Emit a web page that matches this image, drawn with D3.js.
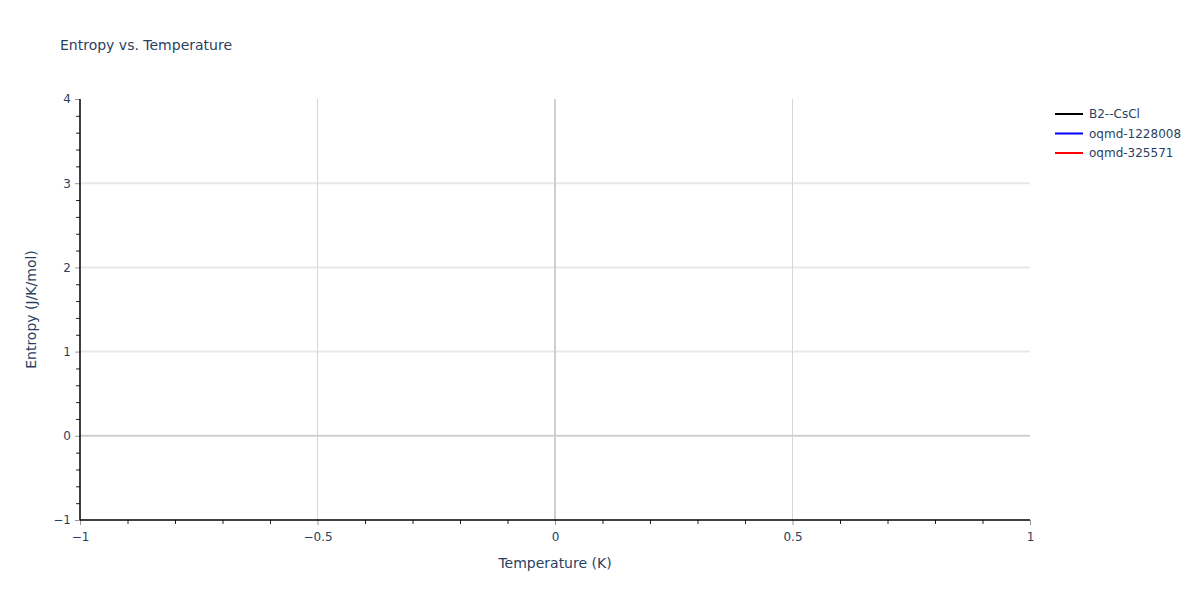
<!doctype html>
<html lang="en">
<head>
    <meta charset="utf-8">
    <script src="https://d3js.org/d3.v7.min.js"></script>
    <style>
        html, body { margin: 0; padding: 0; background: #fff; }
        svg text { font-family: "DejaVu Sans", Verdana, sans-serif; fill: #2a3f5f; }
    </style>
</head>
<body>
<svg id="svg" width="1200" height="600"></svg>
<script>
    // chart data (no points were plotted, only the series names)
    var seriesNames = ["B2--CsCl", "oqmd-1228008", "oqmd-325571"];
    var seriesColors = ["black", "blue", "red"];
    var xDomain = [-1, 1];
    var yDomain = [-1, 4];
    var xMajorTicks = [-1, -0.5, 0, 0.5, 1];
    var xMinorTicks = [-0.9, -0.8, -0.7, -0.6, -0.4, -0.3, -0.2, -0.1, 0.1, 0.2, 0.3, 0.4, 0.6, 0.7, 0.8, 0.9];
    var yMajorTicks = [-1, 0, 1, 2, 3, 4];
    var yMinorTicks = [-0.8, -0.6, -0.4, -0.2, 0.2, 0.4, 0.6, 0.8, 1.2, 1.4, 1.6, 1.8,
                       2.2, 2.4, 2.6, 2.8, 3.2, 3.4, 3.6, 3.8];

    var svg = d3.select("#svg");
    // plot area edges
    var pL = 80, pR = 1030, pT = 99, pB = 520;

    var x = d3.scaleLinear().domain(xDomain).range([pL, pR]);
    var y = d3.scaleLinear().domain(yDomain).range([pB, pT]);

    var fmt = function (d) { return d < 0 ? "\u2212" + Math.abs(d) : String(d); };

    // grid
    svg.append("g").selectAll("line")
        .data(yMajorTicks.filter(function (d) { return d > -1 && d < 4 && d !== 0; }))
        .enter().append("line")
        .attr("x1", pL).attr("x2", pR)
        .attr("y1", function (d) { return y(d); }).attr("y2", function (d) { return y(d); })
        .attr("stroke", "#e8e8e8").attr("stroke-width", 2);
    svg.append("g").selectAll("line")
        .data(xMajorTicks.filter(function (d) { return d > -1 && d < 1 && d !== 0; }))
        .enter().append("line")
        .attr("y1", pT).attr("y2", pB)
        .attr("x1", function (d) { return x(d); }).attr("x2", function (d) { return x(d); })
        .attr("stroke", "#d6d6d6").attr("stroke-width", 1);

    // zero lines
    svg.append("line")
        .attr("x1", pL).attr("x2", pR).attr("y1", y(0)).attr("y2", y(0))
        .attr("stroke", "#cfcfcf").attr("stroke-width", 2);
    svg.append("line")
        .attr("x1", x(0)).attr("x2", x(0)).attr("y1", pT).attr("y2", pB)
        .attr("stroke", "#cfcfcf").attr("stroke-width", 2);

    // x axis
    var gx = svg.append("g").attr("transform", "translate(0," + pB + ")");
    gx.call(d3.axisBottom(x).tickValues(xMinorTicks).tickSize(4).tickFormat(""));
    gx.select(".domain").remove();
    gx.selectAll("line").attr("stroke", "#222");
    var gx2 = svg.append("g").attr("transform", "translate(0," + pB + ")");
    gx2.call(d3.axisBottom(x).tickValues(xMajorTicks).tickSize(5).tickPadding(7).tickFormat(fmt));
    gx2.select(".domain").remove();
    gx2.selectAll("line").attr("stroke", "#999");
    gx2.selectAll("text").attr("font-size", 12).attr("fill", "#2a3f5f");

    // y axis
    var gy = svg.append("g").attr("transform", "translate(" + pL + ",0)");
    gy.call(d3.axisLeft(y).tickValues(yMinorTicks).tickSize(4).tickFormat(""));
    gy.select(".domain").remove();
    gy.selectAll("line").attr("stroke", "#222");
    var gy2 = svg.append("g").attr("transform", "translate(" + pL + ",0)");
    gy2.call(d3.axisLeft(y).tickValues(yMajorTicks).tickSize(5).tickPadding(4).tickFormat(fmt));
    gy2.select(".domain").remove();
    gy2.selectAll("line").attr("stroke", "#999");
    gy2.selectAll("text").attr("font-size", 12).attr("fill", "#2a3f5f");

    // axis lines
    svg.append("line").attr("x1", pL).attr("x2", pR).attr("y1", pB).attr("y2", pB)
        .attr("stroke", "black").attr("stroke-width", 1.5);
    svg.append("line").attr("x1", pL).attr("x2", pL).attr("y1", pT).attr("y2", pB)
        .attr("stroke", "black").attr("stroke-width", 1.5);

    // titles
    svg.append("text").attr("x", 60).attr("y", 50).attr("font-size", 14)
        .text("Entropy vs. Temperature");
    svg.append("text").attr("x", (pL + pR) / 2).attr("y", 568).attr("font-size", 14)
        .attr("text-anchor", "middle").text("Temperature (K)");
    svg.append("text").attr("transform", "translate(36," + ((pT + pB) / 2) + ") rotate(-90)")
        .attr("font-size", 14).attr("text-anchor", "middle").text("Entropy (J/K/mol)");

    // legend
    var lg = svg.append("g").selectAll("g").data(seriesNames).enter().append("g")
        .attr("transform", function (d, i) { return "translate(1055," + (114 + i * 19.5) + ")"; });
    lg.append("line").attr("x1", 0).attr("x2", 28).attr("y1", 0).attr("y2", 0)
        .attr("stroke", function (d, i) { return seriesColors[i]; }).attr("stroke-width", 2);
    lg.append("text").attr("x", 34).attr("y", 4).attr("font-size", 12)
        .text(function (d) { return d; });
</script>
</body>
</html>
